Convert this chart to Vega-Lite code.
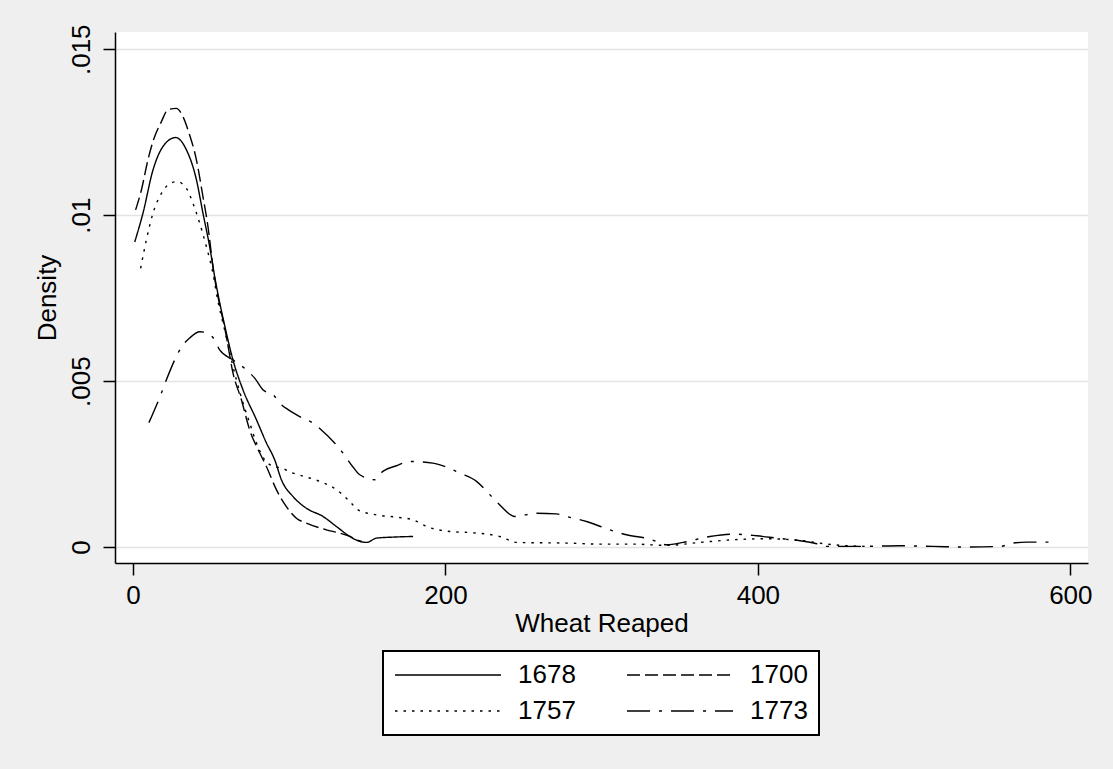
{
  "$schema": "https://vega.github.io/schema/vega-lite/v6.json",
  "width": 973,
  "height": 531,
  "autosize": {"type": "none"},
  "padding": {"left": 115, "top": 32, "right": 25, "bottom": 206},
  "background": "#efefef",
  "view": {"fill": "white", "stroke": null},
  "config": {
    "font": "Liberation Sans",
    "axis": {
      "domainColor": "black", "domainWidth": 1.5,
      "tickColor": "black", "tickWidth": 1.5, "tickSize": 12,
      "labelFont": "Liberation Sans", "labelFontSize": 26, "labelColor": "black",
      "titleFont": "Liberation Sans", "titleFontSize": 26, "titleFontWeight": "normal", "titleColor": "black"
    }
  },
  "data": {"values": [
    {"year":"1678","x":1.1,"d":0.00919},{"year":"1678","x":6.4,"d":0.01006},{"year":"1678","x":12.8,"d":0.01136},{"year":"1678","x":19.2,"d":0.01207},{"year":"1678","x":27.3,"d":0.01234},{"year":"1678","x":34.2,"d":0.01197},{"year":"1678","x":40.6,"d":0.01107},{"year":"1678","x":44.8,"d":0.01006},{"year":"1678","x":49.1,"d":0.00905},{"year":"1678","x":52.3,"d":0.00815},{"year":"1678","x":59.8,"d":0.00645},{"year":"1678","x":64.0,"d":0.00564},{"year":"1678","x":70.4,"d":0.00474},{"year":"1678","x":79.0,"d":0.00384},{"year":"1678","x":85.4,"d":0.00314},{"year":"1678","x":90.7,"d":0.00263},{"year":"1678","x":95.0,"d":0.00203},{"year":"1678","x":102.5,"d":0.00152},{"year":"1678","x":111.0,"d":0.00117},{"year":"1678","x":121.7,"d":0.00092},{"year":"1678","x":130.2,"d":0.00062},{"year":"1678","x":138.8,"d":0.00032},{"year":"1678","x":145.2,"d":0.00017},{"year":"1678","x":149.5,"d":0.00014},{"year":"1678","x":155.9,"d":0.00027},{"year":"1678","x":166.5,"d":0.0003},{"year":"1678","x":179.3,"d":0.00032},
    {"year":"1700","x":1.7,"d":0.01016},{"year":"1700","x":5.4,"d":0.01076},{"year":"1700","x":9.6,"d":0.01167},{"year":"1700","x":12.8,"d":0.01222},{"year":"1700","x":18.2,"d":0.01282},{"year":"1700","x":22.4,"d":0.01318},{"year":"1700","x":27.8,"d":0.01322},{"year":"1700","x":32.0,"d":0.01297},{"year":"1700","x":35.9,"d":0.01247},{"year":"1700","x":40.6,"d":0.01167},{"year":"1700","x":44.8,"d":0.01056},{"year":"1700","x":48.0,"d":0.00966},{"year":"1700","x":51.2,"d":0.00845},{"year":"1700","x":59.8,"d":0.00634},{"year":"1700","x":64.0,"d":0.00525},{"year":"1700","x":69.4,"d":0.00444},{"year":"1700","x":74.7,"d":0.00353},{"year":"1700","x":81.1,"d":0.00284},{"year":"1700","x":85.4,"d":0.00243},{"year":"1700","x":91.8,"d":0.00173},{"year":"1700","x":98.2,"d":0.00122},{"year":"1700","x":104.6,"d":0.00087},{"year":"1700","x":111.0,"d":0.00072},{"year":"1700","x":123.8,"d":0.00052},{"year":"1700","x":132.4,"d":0.00042},{"year":"1700","x":138.8,"d":0.00032},{"year":"1700","x":143.0,"d":0.00022},{"year":"1700","x":146.4,"d":0.00017},
    {"year":"1757","x":4.9,"d":0.0084},{"year":"1757","x":8.6,"d":0.00926},{"year":"1757","x":12.8,"d":0.01006},{"year":"1757","x":18.2,"d":0.01066},{"year":"1757","x":22.4,"d":0.01091},{"year":"1757","x":28.2,"d":0.01101},{"year":"1757","x":34.2,"d":0.01081},{"year":"1757","x":38.4,"d":0.01036},{"year":"1757","x":42.7,"d":0.00976},{"year":"1757","x":47.0,"d":0.00905},{"year":"1757","x":51.2,"d":0.00825},{"year":"1757","x":54.2,"d":0.00745},{"year":"1757","x":58.7,"d":0.00654},{"year":"1757","x":63.0,"d":0.00564},{"year":"1757","x":66.2,"d":0.00504},{"year":"1757","x":70.4,"d":0.00435},{"year":"1757","x":74.7,"d":0.00374},{"year":"1757","x":79.0,"d":0.00314},{"year":"1757","x":84.3,"d":0.00263},{"year":"1757","x":90.0,"d":0.00243},{"year":"1757","x":95.0,"d":0.00238},{"year":"1757","x":102.5,"d":0.00223},{"year":"1757","x":113.1,"d":0.00208},{"year":"1757","x":119.6,"d":0.00198},{"year":"1757","x":130.2,"d":0.00173},{"year":"1757","x":138.8,"d":0.00137},{"year":"1757","x":144.1,"d":0.00112},{"year":"1757","x":155.9,"d":0.00097},{"year":"1757","x":168.7,"d":0.0009},{"year":"1757","x":179.3,"d":0.00082},{"year":"1757","x":187.9,"d":0.00062},{"year":"1757","x":202.8,"d":0.00047},{"year":"1757","x":217.5,"d":0.00043},{"year":"1757","x":234.8,"d":0.00032},{"year":"1757","x":245.5,"d":0.00014},{"year":"1757","x":277.5,"d":0.00012},{"year":"1757","x":298.9,"d":0.00009},{"year":"1757","x":320.0,"d":0.00009},{"year":"1757","x":341.6,"d":0.00005},{"year":"1757","x":362.9,"d":0.00014},{"year":"1757","x":384.0,"d":0.00022},{"year":"1757","x":405.6,"d":0.00025},{"year":"1757","x":426.9,"d":0.0002},{"year":"1757","x":448.0,"d":0.00007},{"year":"1757","x":469.0,"d":0.00002},
    {"year":"1773","x":10.2,"d":0.00375},{"year":"1773","x":18.2,"d":0.00464},{"year":"1773","x":21.4,"d":0.00504},{"year":"1773","x":32.0,"d":0.00609},{"year":"1773","x":36.3,"d":0.0063},{"year":"1773","x":42.7,"d":0.00649},{"year":"1773","x":47.0,"d":0.00646},{"year":"1773","x":52.3,"d":0.00624},{"year":"1773","x":55.5,"d":0.00594},{"year":"1773","x":64.0,"d":0.00564},{"year":"1773","x":72.6,"d":0.00534},{"year":"1773","x":77.9,"d":0.00509},{"year":"1773","x":83.2,"d":0.00474},{"year":"1773","x":89.6,"d":0.00459},{"year":"1773","x":95.0,"d":0.00429},{"year":"1773","x":99.3,"d":0.00414},{"year":"1773","x":106.7,"d":0.00393},{"year":"1773","x":115.3,"d":0.00373},{"year":"1773","x":120.6,"d":0.00353},{"year":"1773","x":129.2,"d":0.00313},{"year":"1773","x":134.3,"d":0.00284},{"year":"1773","x":140.7,"d":0.00242},{"year":"1773","x":145.2,"d":0.00218},{"year":"1773","x":154.8,"d":0.00203},{"year":"1773","x":159.9,"d":0.00228},{"year":"1773","x":168.7,"d":0.00245},{"year":"1773","x":177.2,"d":0.00258},{"year":"1773","x":191.9,"d":0.00253},{"year":"1773","x":200.7,"d":0.00241},{"year":"1773","x":209.2,"d":0.00223},{"year":"1773","x":219.9,"d":0.00198},{"year":"1773","x":228.4,"d":0.00158},{"year":"1773","x":234.8,"d":0.00127},{"year":"1773","x":244.4,"d":0.00092},{"year":"1773","x":258.3,"d":0.00102},{"year":"1773","x":271.1,"d":0.001},{"year":"1773","x":277.5,"d":0.00092},{"year":"1773","x":290.3,"d":0.00077},{"year":"1773","x":305.2,"d":0.00052},{"year":"1773","x":315.9,"d":0.00037},{"year":"1773","x":330.9,"d":0.00024},{"year":"1773","x":341.6,"d":0.00007},{"year":"1773","x":352.2,"d":0.00014},{"year":"1773","x":369.3,"d":0.00032},{"year":"1773","x":384.0,"d":0.00039},{"year":"1773","x":399.2,"d":0.00034},{"year":"1773","x":412.0,"d":0.00027},{"year":"1773","x":426.9,"d":0.00019},{"year":"1773","x":437.6,"d":0.0001},{"year":"1773","x":444.0,"d":0.00002},{"year":"1773","x":465.3,"d":0.00002},{"year":"1773","x":490.9,"d":0.00004},{"year":"1773","x":512.1,"d":0.00002},{"year":"1773","x":533.6,"d":0.0},{"year":"1773","x":555.1,"d":0.00002},{"year":"1773","x":563.3,"d":0.00012},{"year":"1773","x":572.1,"d":0.00015},{"year":"1773","x":590.3,"d":0.00015}
  ]},
  "mark": {"type": "line", "color": "black", "strokeWidth": 1.4, "interpolate": "monotone"},
  "encoding": {
    "x": {
      "field": "x", "type": "quantitative",
      "scale": {"domain": [-11.5, 611.3], "nice": false, "zero": false},
      "axis": {"title": "Wheat Reaped", "values": [0, 200, 400, 600], "grid": false, "labelPadding": 7, "titlePadding": 2, "labelFlush": false}
    },
    "y": {
      "field": "d", "type": "quantitative",
      "scale": {"domain": [-0.00048, 0.01552], "nice": false, "zero": false},
      "axis": {
        "title": "Density", "values": [0, 0.005, 0.01, 0.015],
        "labelExpr": "datum.value == 0 ? '0' : datum.value == 0.005 ? '.005' : datum.value == 0.01 ? '.01' : '.015'",
        "labelAngle": 270, "labelAlign": "center", "labelBaseline": "bottom", "labelPadding": 9, "labelFlush": false,
        "grid": true, "gridColor": "#e4e4e4", "gridWidth": 1.5, "titlePadding": 8
      }
    },
    "strokeDash": {
      "field": "year", "type": "nominal",
      "scale": {"domain": ["1678", "1700", "1757", "1773"], "range": [[1, 0], [13, 5], [2.5, 6], [23, 9, 3, 9]]},
      "legend": {
        "title": null, "orient": "none", "legendX": 268, "legendY": 619, "direction": "horizontal", "columns": 2,
        "strokeColor": "black", "fillColor": "white", "padding": 11,
        "symbolType": "stroke", "symbolSize": 11236, "symbolStrokeWidth": 1.4, "symbolStrokeColor": "black",
        "labelFont": "Liberation Sans", "labelFontSize": 26, "labelColor": "black", "labelOffset": 16,
        "columnPadding": 50, "rowPadding": 10, "clipHeight": 26,
        "encode": {"legend": {"update": {"strokeWidth": {"value": 2}}}}
      }
    }
  }
}
